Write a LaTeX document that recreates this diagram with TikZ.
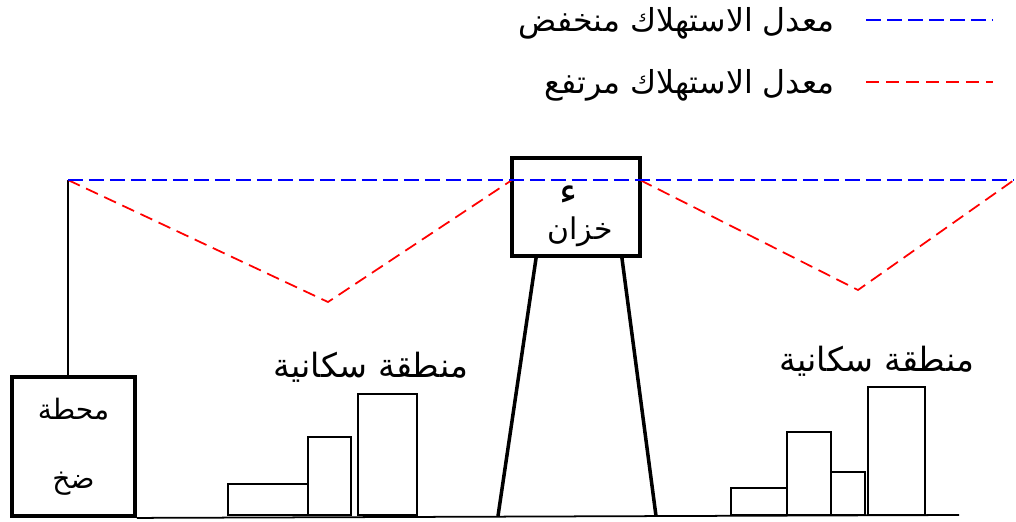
\documentclass[tikz,border=0pt]{standalone}
\usepackage{fontspec}
\newfontfamily\arabicfont[Script=Arabic]{DejaVu Sans}
\TeXXeTstate=1
\usetikzlibrary{calc}
\tikzset{
  box/.style={draw,line width=2.2pt,inner sep=0pt,align=center,
              font=\arabicfont\fontsize{16}{39}\selectfont},
  bld/.style={draw,line width=1.1pt},
  leg/.style={line width=2pt},
  pipe/.style={line width=1pt},
  lo/.style={draw=blue,line width=1.1pt,dash pattern=on 3mm off 1.2mm},
  hi/.style={draw=red,line width=1pt,dash pattern=on 2.6mm off 1.4mm},
  txt/.style={font=\arabicfont\fontsize{18}{21}\selectfont,inner sep=0pt},
  zone/.style={font=\arabicfont\fontsize{19}{22}\selectfont,inner sep=0pt},
}
\begin{document}
\begin{tikzpicture}[x=0.02cm,y=-0.02cm]
  \useasboundingbox (0,0) rectangle (1016,521);
  % legend
  \coordinate (k1a) at (866,20);  \coordinate (k1b) at (993,20);
  \coordinate (k2a) at (866,82);  \coordinate (k2b) at (993,82);
  \draw[lo] (k1a)--(k1b);
  \draw[hi] (k2a)--(k2b);
  \node[txt,anchor=east] (lowtxt) at (835,23){\beginR معدل الاستهلاك منخفض\endR};
  \node[txt,anchor=east] (hightxt) at (835,85){\beginR معدل الاستهلاك مرتفع\endR};
  % pump station and tank
  \node[box,minimum width=2.46cm,minimum height=2.78cm] (pump) at (73.5,446.5)
       {\beginR محطة\endR\\\beginR ضخ\endR};
  \node[box,minimum width=2.56cm,minimum height=1.96cm] (tank) at (576,207){};
  \node[txt,font=\arabicfont\fontsize{22}{22}\selectfont] (hmz) at (569,195){ء};
  \node[txt,font=\arabicfont\fontsize{17}{20}\selectfont] (tname) at (580,232){\beginR خزان\endR};
  \coordinate (lf) at (498,516);
  \coordinate (rf) at (656,516);
  \draw[leg] ([xshift=0.52cm]tank.south west)--(lf);
  \draw[leg] ([xshift=-0.4cm]tank.south east)--(rf);
  % ground
  \coordinate (gend) at (959,515);
  \draw[pipe] (pump.south east)--(gend);
  % buildings
  \draw[bld] (228,515) rectangle (308,484);
  \draw[bld] (308,515) rectangle (351,437);
  \draw[bld] (358,515) rectangle (417,394);
  \node[zone] (zone1) at (371,367){\beginR منطقة سكانية\endR};
  \draw[bld] (731,515) rectangle (787,488);
  \draw[bld] (787,515) rectangle (831,432);
  \draw[bld] (831,515) rectangle (865,472);
  \draw[bld] (868,515) rectangle (925,387);
  \node[zone] (zone2) at (877,361){\beginR منطقة سكانية\endR};
  % supply lines
  \coordinate (start) at (68,180);
  \coordinate (tl) at (512,180);  \coordinate (tr) at (640,180);
  \coordinate (v1) at (328,302);  \coordinate (v2) at (858,290);
  \coordinate (end) at (1014,180);
  \draw[pipe] (start)--(start|-pump.north);
  \draw[hi] (start)--(v1)--(tl);
  \draw[hi] (tr)--(v2)--(end);
  \draw[lo] (start)--(end);
\end{tikzpicture}
\end{document}
